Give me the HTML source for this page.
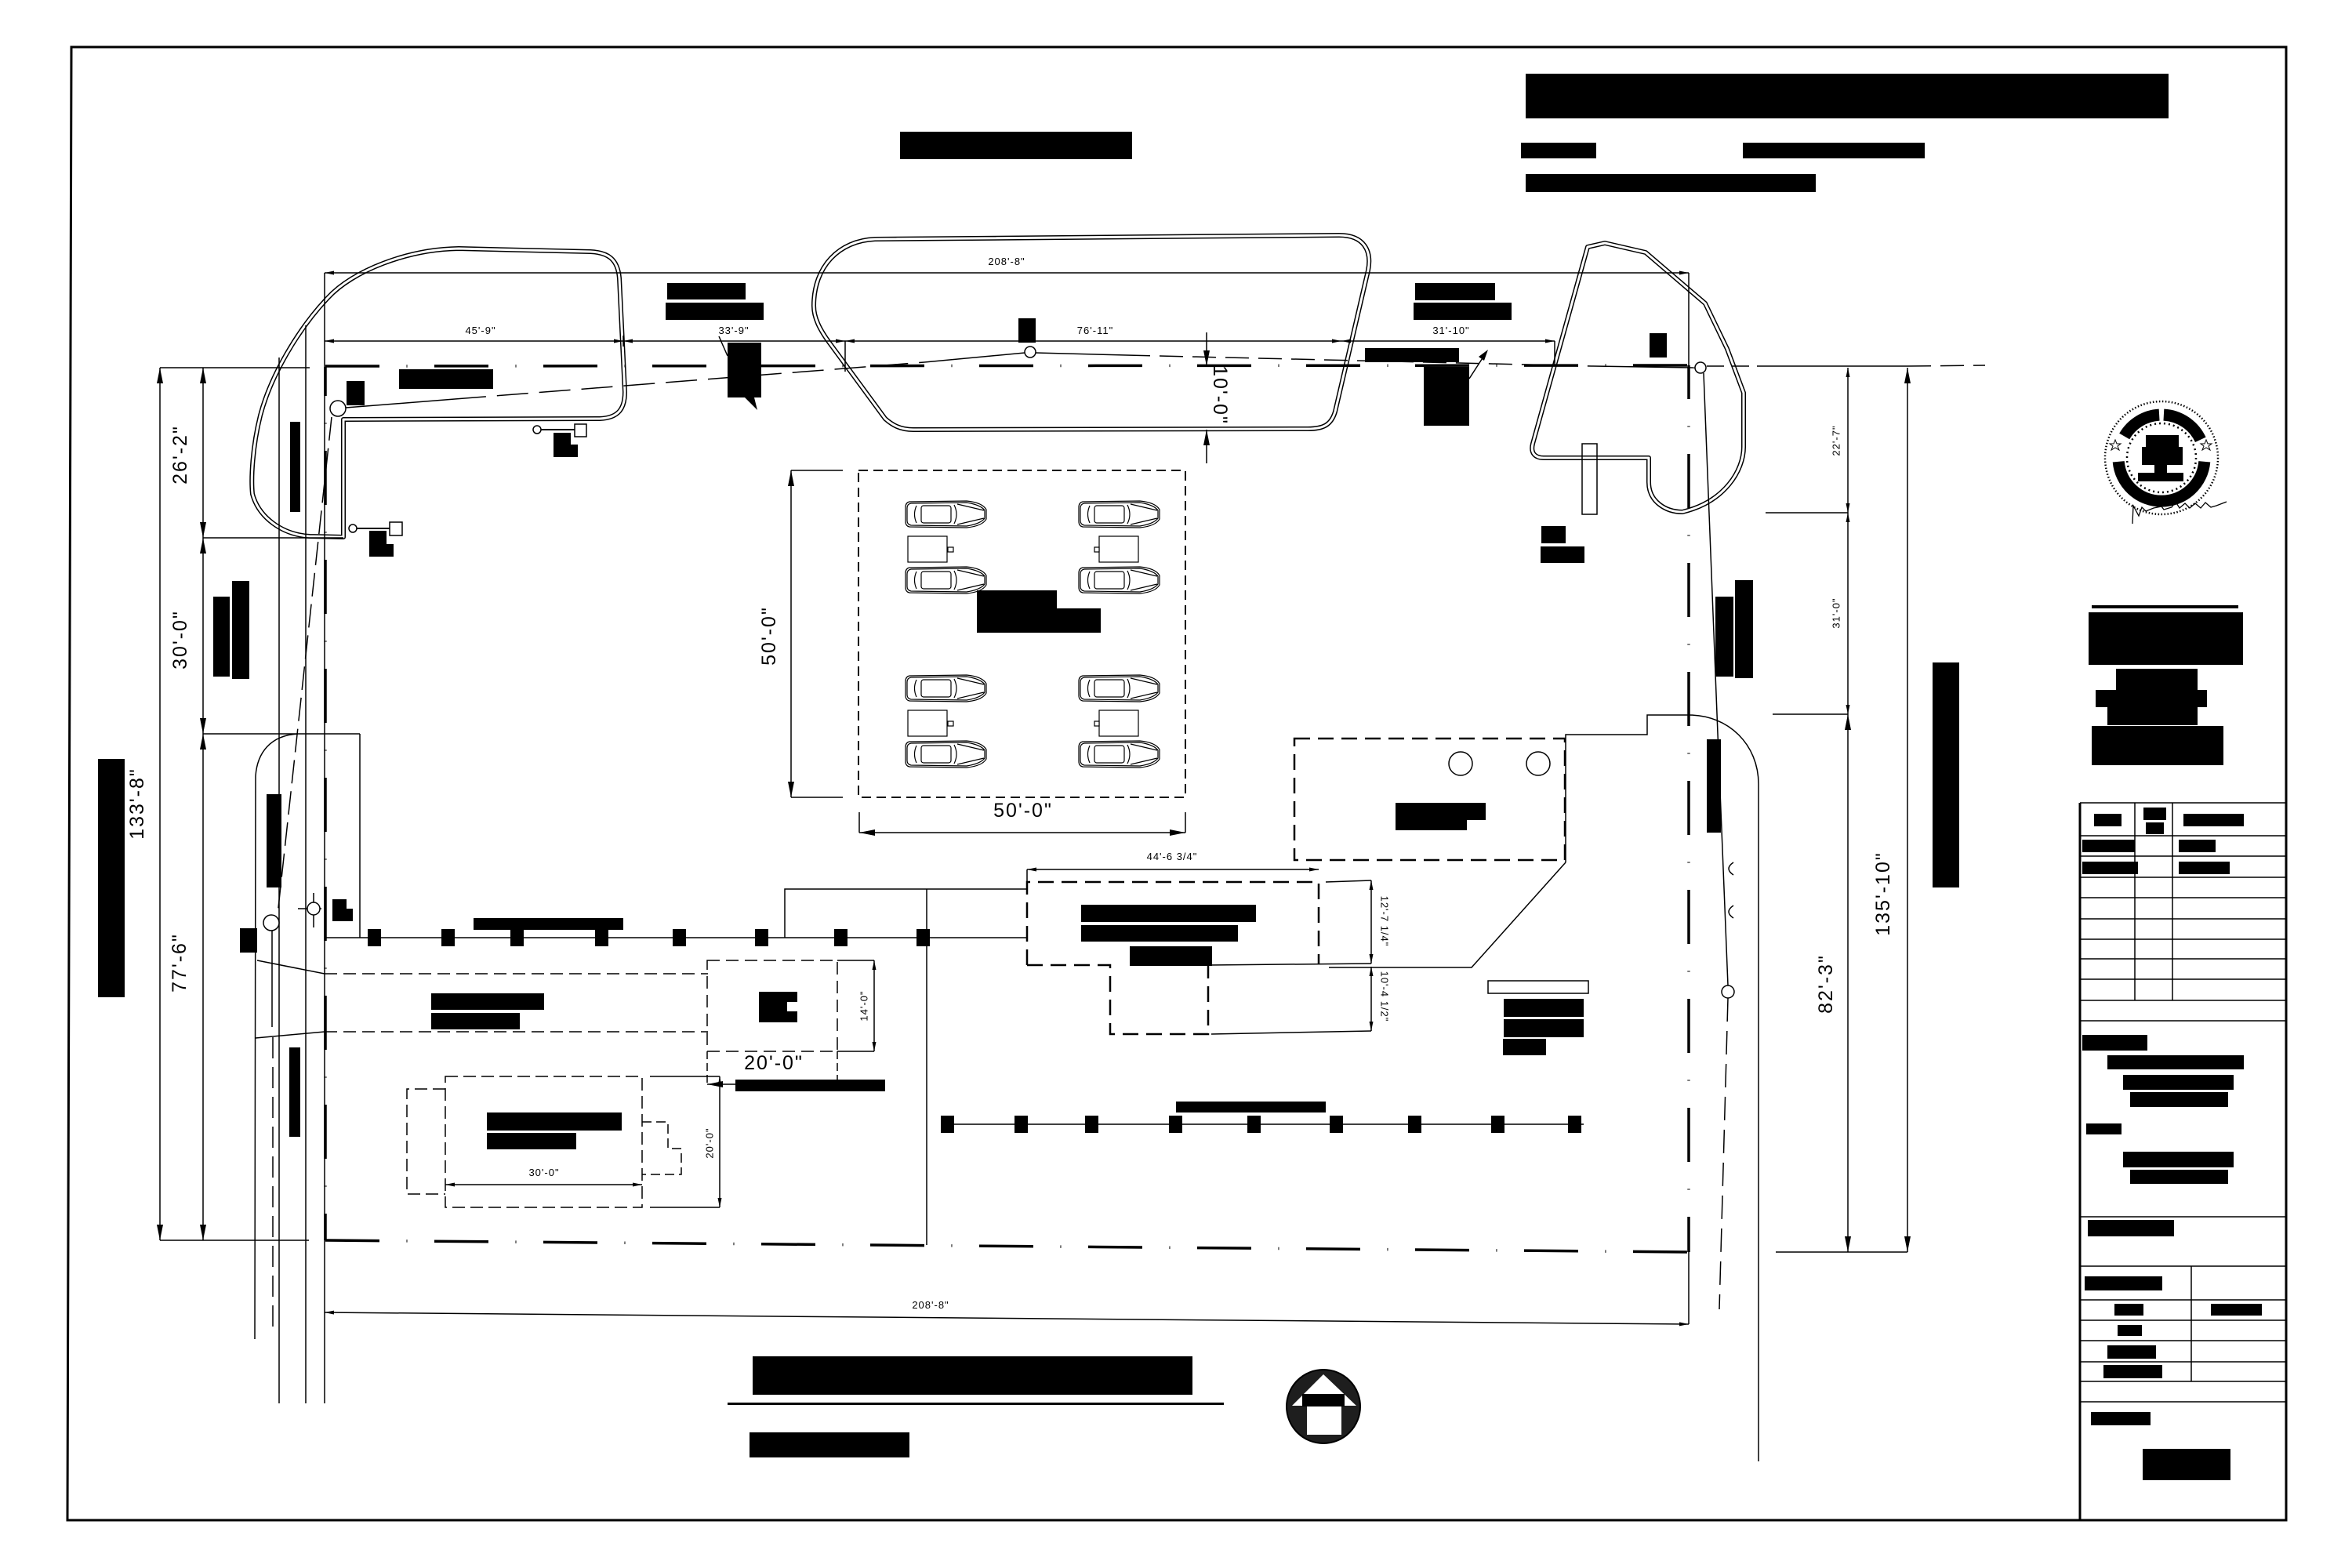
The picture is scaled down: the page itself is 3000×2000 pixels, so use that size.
<!DOCTYPE html>
<html><head><meta charset="utf-8">
<style>
html,body{margin:0;padding:0;background:#fff;}
svg{display:block;}
text{font-family:"Liberation Sans",sans-serif;fill:#000;}
.s{font-size:13px;letter-spacing:1px;}
.b{font-size:25px;letter-spacing:2px;}
</style></head><body>
<svg width="3000" height="2000" viewBox="0 0 3000 2000" xmlns="http://www.w3.org/2000/svg">
<defs>
<marker id="a" markerUnits="userSpaceOnUse" markerWidth="20" markerHeight="8" refX="20" refY="4" orient="auto-start-reverse" viewBox="0 0 20 8"><path d="M0,0 L20,4 L0,8 Z" fill="#000"/></marker>
<marker id="m" markerUnits="userSpaceOnUse" markerWidth="12" markerHeight="5" refX="12" refY="2.5" orient="auto-start-reverse" viewBox="0 0 12 5"><path d="M0,0 L12,2.5 L0,5 Z" fill="#000"/></marker>
<g id="car" fill="none" stroke="#000" stroke-width="1.2">
<path d="M5,2 L78,1 Q98,3 103,12 L103,24 Q98,33 78,35 L5,34 Q0,33 0,27 L0,9 Q0,3 5,2 Z"/>
<path d="M7,4 L78,3 Q96,6 101,13 L101,23 Q96,30 78,33 L7,32 Q2,31 2,26 L2,10 Q2,5 7,4 Z"/>
<path d="M14,7 Q9,18 14,29"/>
<rect x="20" y="7" width="38" height="22" rx="3"/>
<path d="M62,6 Q68,18 62,30"/>
<path d="M66,5 L100,13 M66,31 L100,23"/>
</g>
</defs>

<!-- frame -->
<path d="M91,60 L2916,60 L2916,1939 L86,1939 Z" fill="none" stroke="#000" stroke-width="3"/>

<!-- header blocks -->
<g fill="#000">
<rect x="1946" y="94" width="820" height="57"/>
<rect x="1940" y="182" width="96" height="20"/>
<rect x="2223" y="182" width="232" height="20"/>
<rect x="1946" y="222" width="370" height="23"/>
<rect x="1148" y="168" width="296" height="35"/>
</g>

<!-- seal -->
<g>
<circle cx="2757" cy="584" r="72" fill="none" stroke="#000" stroke-width="2.5" stroke-dasharray="1.5 2.5"/>
<circle cx="2757" cy="584" r="44" fill="none" stroke="#000" stroke-width="2.5" stroke-dasharray="2 4"/>
<path d="M2709.7,556.5 A55,55 0 0 1 2754.1,529.1" fill="none" stroke="#000" stroke-width="15"/>
<path d="M2759.9,529.1 A55,55 0 0 1 2806.8,560.8" fill="none" stroke="#000" stroke-width="15"/>
<path d="M2811.8,588.8 A55,55 0 0 1 2702.2,588.8" fill="none" stroke="#000" stroke-width="15"/>
<rect x="2737" y="555" width="42" height="15" fill="#000"/>
<rect x="2732" y="570" width="52" height="23" fill="#000"/>
<rect x="2748" y="593" width="16" height="10" fill="#000"/>
<rect x="2727" y="603" width="58" height="11" fill="#000"/>
<polygon points="2698,561 2700,566 2705,566 2701,569 2703,574 2698,571 2693,574 2695,569 2691,566 2696,566" fill="none" stroke="#000" stroke-width="1"/>
<polygon points="2814,561 2816,566 2821,566 2817,569 2819,574 2814,571 2809,574 2811,569 2807,566 2812,566" fill="none" stroke="#000" stroke-width="1"/>
<polyline points="2720,668 2721,645 2728,658 2732,647 2737,652 2747,648 2757,646 2760,650 2770,647 2775,640 2780,648 2787,642 2793,648 2800,642 2807,648 2813,641 2820,647 2827,645 2840,640" fill="none" stroke="#000" stroke-width="1.3"/>
</g>

<!-- blocks right of seal -->
<g fill="#000">
<rect x="2668" y="772" width="187" height="4"/>
<rect x="2664" y="781" width="197" height="67"/>
<rect x="2699" y="853" width="104" height="27"/>
<rect x="2673" y="880" width="142" height="22"/>
<rect x="2688" y="902" width="115" height="23"/>
<rect x="2668" y="926" width="168" height="50"/>
<rect x="2465" y="845" width="34" height="287"/>
</g>

<!-- title block -->
<g stroke="#000" fill="none">
<line x1="2653" y1="1024" x2="2653" y2="1939" stroke-width="3"/>
<g stroke-width="1.5">
<line x1="2653" y1="1024" x2="2916" y2="1024"/>
<line x1="2653" y1="1066" x2="2916" y2="1066"/>
<line x1="2653" y1="1092" x2="2916" y2="1092"/>
<line x1="2653" y1="1119" x2="2916" y2="1119"/>
<line x1="2653" y1="1145" x2="2916" y2="1145"/>
<line x1="2653" y1="1172" x2="2916" y2="1172"/>
<line x1="2653" y1="1198" x2="2916" y2="1198"/>
<line x1="2653" y1="1223" x2="2916" y2="1223"/>
<line x1="2653" y1="1249" x2="2916" y2="1249"/>
<line x1="2653" y1="1276" x2="2916" y2="1276"/>
<line x1="2653" y1="1302" x2="2916" y2="1302"/>
<line x1="2653" y1="1552" x2="2916" y2="1552"/>
<line x1="2653" y1="1615" x2="2916" y2="1615"/>
<line x1="2653" y1="1658" x2="2916" y2="1658"/>
<line x1="2653" y1="1684" x2="2916" y2="1684"/>
<line x1="2653" y1="1710" x2="2916" y2="1710"/>
<line x1="2653" y1="1737" x2="2916" y2="1737"/>
<line x1="2653" y1="1762" x2="2916" y2="1762"/>
<line x1="2653" y1="1788" x2="2916" y2="1788"/>
<line x1="2723" y1="1024" x2="2723" y2="1276"/>
<line x1="2771" y1="1024" x2="2771" y2="1276"/>
<line x1="2795" y1="1615" x2="2795" y2="1762"/>
</g>
</g>
<g fill="#000">
<rect x="2671" y="1038" width="35" height="16"/>
<rect x="2734" y="1030" width="29" height="16"/>
<rect x="2737" y="1049" width="23" height="15"/>
<rect x="2785" y="1038" width="77" height="16"/>
<rect x="2656" y="1071" width="67" height="16"/>
<rect x="2779" y="1071" width="47" height="16"/>
<rect x="2656" y="1099" width="71" height="16"/>
<rect x="2779" y="1099" width="65" height="16"/>
<rect x="2656" y="1320" width="83" height="20"/>
<rect x="2688" y="1346" width="174" height="18"/>
<rect x="2708" y="1371" width="141" height="19"/>
<rect x="2717" y="1393" width="125" height="19"/>
<rect x="2661" y="1433" width="45" height="14"/>
<rect x="2708" y="1469" width="141" height="20"/>
<rect x="2717" y="1492" width="125" height="18"/>
<rect x="2663" y="1556" width="110" height="21"/>
<rect x="2659" y="1628" width="99" height="18"/>
<rect x="2697" y="1663" width="37" height="15"/>
<rect x="2820" y="1663" width="65" height="15"/>
<rect x="2701" y="1690" width="31" height="14"/>
<rect x="2688" y="1716" width="62" height="17"/>
<rect x="2683" y="1741" width="75" height="17"/>
<rect x="2667" y="1801" width="76" height="17"/>
<rect x="2733" y="1848" width="112" height="40"/>
</g>

<!-- double-line curb shapes -->
<g fill="none" stroke-linejoin="round">
<path d="M585,317 C520,318 450,345 418,380 C380,420 345,480 332,530 C322,570 320,610 322,630 C330,660 360,682 395,684 L438,685 L438,535 L765,534 C790,533 797,520 797,500 L790,355 C788,330 775,322 753,321 Z" stroke="#000" stroke-width="6"/>
<path d="M585,317 C520,318 450,345 418,380 C380,420 345,480 332,530 C322,570 320,610 322,630 C330,660 360,682 395,684 L438,685 L438,535 L765,534 C790,533 797,520 797,500 L790,355 C788,330 775,322 753,321 Z" stroke="#fff" stroke-width="3"/>
<path d="M1116,305 L1708,300 C1740,300 1750,320 1745,345 L1703,525 C1698,542 1688,547 1668,547 L1165,548 C1148,548 1138,542 1129,534 L1060,440 C1045,420 1038,405 1038,390 C1038,340 1070,307 1116,305 Z" stroke="#000" stroke-width="6"/>
<path d="M1116,305 L1708,300 C1740,300 1750,320 1745,345 L1703,525 C1698,542 1688,547 1668,547 L1165,548 C1148,548 1138,542 1129,534 L1060,440 C1045,420 1038,405 1038,390 C1038,340 1070,307 1116,305 Z" stroke="#fff" stroke-width="3"/>
<path d="M2025,315 L2047,310 L2099,322 L2175,387 L2203,445 L2224,501 L2224,570 C2224,600 2200,640 2146,653 C2125,653 2103,640 2103,615 L2103,584 L1969,584 C1958,584 1952,578 1955,566 Z" stroke="#000" stroke-width="6"/>
<path d="M2025,315 L2047,310 L2099,322 L2175,387 L2203,445 L2224,501 L2224,570 C2224,600 2200,640 2146,653 C2125,653 2103,640 2103,615 L2103,584 L1969,584 C1958,584 1952,578 1955,566 Z" stroke="#fff" stroke-width="3"/>
</g>

<!-- property line -->
<g stroke="#000" stroke-width="3.5" fill="none" stroke-dasharray="69 34.5 1 34.5">
<path d="M415,467 L2155,466"/>
<path d="M415,1582 L2155,1597"/>
<path d="M415,468 L415,1582" stroke-dashoffset="32"/>
<path d="M2154,466 L2154,1597" stroke-dashoffset="26"/>
</g>

<!-- thin lines -->
<g stroke="#000" stroke-width="1.5" fill="none">
<line x1="414" y1="348" x2="414" y2="1790"/>
<line x1="356" y1="456" x2="356" y2="1790"/>
<line x1="390" y1="415" x2="390" y2="1790"/>
<path d="M325,1708 L326,990 C328,960 345,938 380,936 L459,936"/>
<line x1="459" y1="936" x2="459" y2="1196"/>
<line x1="2154" y1="348" x2="2154" y2="470"/>
<line x1="2154" y1="1597" x2="2154" y2="1689"/>
<line x1="204" y1="469" x2="395" y2="469"/>
<line x1="259" y1="686" x2="438" y2="686"/>
<line x1="259" y1="936" x2="380" y2="936"/>
<line x1="204" y1="1582" x2="394" y2="1582"/>
<line x1="1078" y1="435" x2="1078" y2="474"/>
<line x1="795" y1="428" x2="795" y2="442"/>
<line x1="1983" y1="435" x2="1983" y2="466"/>
<line x1="2252" y1="654" x2="2357" y2="654"/>
<line x1="2261" y1="911" x2="2357" y2="911"/>
<line x1="2265" y1="1597" x2="2433" y2="1597"/>
<line x1="2253" y1="467" x2="2433" y2="467"/>
<line x1="2177" y1="467" x2="2253" y2="467" stroke-dasharray="22 10"/>
<line x1="2433" y1="467" x2="2532" y2="466" stroke-dasharray="30 12"/>
<line x1="441" y1="520" x2="580" y2="509"/>
<line x1="580" y1="509" x2="1179" y2="462" stroke-dasharray="40 14"/>
<line x1="1179" y1="462" x2="1307" y2="450"/>
<line x1="1321" y1="450" x2="1437" y2="453"/>
<line x1="1437" y1="453" x2="2030" y2="467" stroke-dasharray="30 12"/>
<line x1="2030" y1="467" x2="2162" y2="469"/>
<path d="M2173,476 L2191,936 L2197,1083 L2204,1257"/>
<line x1="2204" y1="1273" x2="2193" y2="1670" stroke-dasharray="30 12"/>
<path d="M2211,1100 Q2199,1108 2211,1116 M2211,1155 Q2199,1163 2211,1171"/>
<line x1="423" y1="532" x2="354" y2="1167" stroke-dasharray="30 10"/>
<line x1="347" y1="1187" x2="347" y2="1310"/>
<line x1="348" y1="1323" x2="348" y2="1698" stroke-dasharray="27 11"/>
<line x1="380" y1="1159" x2="410" y2="1159"/>
<line x1="400" y1="1139" x2="400" y2="1183"/>
<line x1="690" y1="548" x2="733" y2="548" stroke-width="2"/>
<line x1="455" y1="674" x2="497" y2="674" stroke-width="2"/>
<line x1="328" y1="1225" x2="414" y2="1242"/>
<line x1="326" y1="1324" x2="414" y2="1316"/>
<line x1="414" y1="1242" x2="903" y2="1242" stroke-dasharray="16 8"/>
<line x1="414" y1="1316" x2="903" y2="1316" stroke-dasharray="16 8"/>
<rect x="902" y="1225" width="166" height="116" stroke-dasharray="16 8"/>
<line x1="1068" y1="1225" x2="1115" y2="1225"/>
<line x1="1068" y1="1341" x2="1115" y2="1341"/>
<line x1="902" y1="1341" x2="902" y2="1383" stroke-dasharray="10 5"/>
<line x1="1068" y1="1341" x2="1068" y2="1377" stroke-dasharray="10 5"/>
<rect x="568" y="1373" width="251" height="167" stroke-dasharray="16 7"/>
<path d="M568,1389 L519,1389 L519,1523 L568,1523" stroke-dasharray="16 7"/>
<path d="M819,1431 L852,1431 L852,1465 L869,1465 L869,1498 L819,1498" stroke-dasharray="12 6"/>
<line x1="829" y1="1373" x2="918" y2="1373"/>
<line x1="829" y1="1540" x2="918" y2="1540"/>
<line x1="414" y1="1196" x2="1310" y2="1196"/>
<path d="M1001,1196 L1001,1134 L1310,1134"/>
<line x1="1182" y1="1134" x2="1182" y2="1588"/>
<line x1="1200" y1="1434" x2="2020" y2="1434"/>
<path d="M1310,1231 L1310,1125 L1682,1125 L1682,1230" stroke-width="2.5" stroke-dasharray="20 10"/>
<path d="M1310,1231 L1416,1231 L1416,1319 L1541,1319 L1541,1231" stroke-width="2.5" stroke-dasharray="20 10"/>
<line x1="1541" y1="1231" x2="1749" y2="1229"/>
<line x1="1545" y1="1319" x2="1749" y2="1315"/>
<line x1="1691" y1="1125" x2="1749" y2="1123"/>
<line x1="1310" y1="1109" x2="1310" y2="1125"/>
<rect x="1651" y="942" width="345" height="155" stroke-width="2.5" stroke-dasharray="20 10"/>
<circle cx="1863" cy="974" r="15"/>
<circle cx="1962" cy="974" r="15"/>
<path d="M1997,1100 L1997,937 L2101,937 L2101,912 L2154,912"/>
<path d="M1997,1100 L1877,1234 L1695,1234"/>
<path d="M2154,912 C2205,912 2243,950 2243,1000 L2243,1864"/>
<rect x="1095" y="600" width="417" height="417" stroke-width="2" stroke-dasharray="12 7"/>
<line x1="1009" y1="600" x2="1075" y2="600"/>
<line x1="1009" y1="1017" x2="1075" y2="1017"/>
<line x1="1096" y1="1036" x2="1096" y2="1062"/>
<line x1="1512" y1="1036" x2="1512" y2="1062"/>
<rect x="2018" y="566" width="19" height="90"/>
<rect x="1898" y="1251" width="128" height="16"/>
<line x1="1874" y1="483" x2="1896" y2="449"/>
<line x1="917" y1="429" x2="928" y2="454"/>
</g>

<!-- dimension lines with arrows -->
<g stroke="#000" stroke-width="1.5" fill="none">
<line x1="414" y1="348" x2="2154" y2="348" marker-start="url(#m)" marker-end="url(#m)"/>
<line x1="414" y1="435" x2="795" y2="435" marker-start="url(#m)" marker-end="url(#m)"/>
<line x1="795" y1="435" x2="1078" y2="435" marker-start="url(#m)" marker-end="url(#m)"/>
<line x1="1078" y1="435" x2="1711" y2="435" marker-start="url(#m)" marker-end="url(#m)"/>
<line x1="1711" y1="435" x2="1983" y2="435" marker-start="url(#m)" marker-end="url(#m)"/>
<line x1="1539" y1="424" x2="1539" y2="467" marker-end="url(#a)"/>
<line x1="1539" y1="591" x2="1539" y2="548" marker-end="url(#a)"/>
<line x1="204" y1="469" x2="204" y2="1582" marker-start="url(#a)" marker-end="url(#a)"/>
<line x1="259" y1="469" x2="259" y2="686" marker-start="url(#a)" marker-end="url(#a)"/>
<line x1="259" y1="686" x2="259" y2="936" marker-start="url(#a)" marker-end="url(#a)"/>
<line x1="259" y1="936" x2="259" y2="1582" marker-start="url(#a)" marker-end="url(#a)"/>
<line x1="2357" y1="469" x2="2357" y2="654" marker-start="url(#m)" marker-end="url(#m)"/>
<line x1="2357" y1="654" x2="2357" y2="911" marker-start="url(#m)" marker-end="url(#m)"/>
<line x1="2357" y1="911" x2="2357" y2="1597" marker-start="url(#a)" marker-end="url(#a)"/>
<line x1="2433" y1="469" x2="2433" y2="1597" marker-start="url(#a)" marker-end="url(#a)"/>
<line x1="414" y1="1674" x2="2154" y2="1689" marker-start="url(#m)" marker-end="url(#m)"/>
<line x1="1009" y1="600" x2="1009" y2="1017" marker-start="url(#a)" marker-end="url(#a)"/>
<line x1="1096" y1="1062" x2="1512" y2="1062" marker-start="url(#a)" marker-end="url(#a)"/>
<line x1="1310" y1="1109" x2="1682" y2="1109" marker-start="url(#m)" marker-end="url(#m)"/>
<line x1="1749" y1="1123" x2="1749" y2="1229" marker-start="url(#m)" marker-end="url(#m)"/>
<line x1="1749" y1="1233" x2="1749" y2="1315" marker-start="url(#m)" marker-end="url(#m)"/>
<line x1="1115" y1="1225" x2="1115" y2="1341" marker-start="url(#m)" marker-end="url(#m)"/>
<line x1="902" y1="1383" x2="1068" y2="1383" marker-start="url(#a)" marker-end="url(#a)"/>
<line x1="918" y1="1373" x2="918" y2="1540" marker-start="url(#m)" marker-end="url(#m)"/>
<line x1="568" y1="1511" x2="819" y2="1511" marker-start="url(#m)" marker-end="url(#m)"/>
</g>
<path d="M1898,446 L1893,460 L1886,455 Z" fill="#000"/>

<!-- poles -->
<g fill="#fff" stroke="#000" stroke-width="1.5">
<circle cx="431" cy="521" r="10"/>
<circle cx="1314" cy="449" r="7"/>
<circle cx="2169" cy="469" r="7"/>
<circle cx="2204" cy="1265" r="8"/>
<circle cx="346" cy="1177" r="10"/>
<circle cx="400" cy="1159" r="8"/>
<circle cx="685" cy="548" r="5"/>
<rect x="733" y="541" width="15" height="16"/>
<circle cx="450" cy="674" r="5"/>
<rect x="497" y="666" width="16" height="17"/>
</g>

<!-- cars -->
<use href="#car" x="1155" y="638"/>
<use href="#car" x="1376" y="638"/>
<use href="#car" x="1155" y="722"/>
<use href="#car" x="1376" y="722"/>
<use href="#car" x="1155" y="860"/>
<use href="#car" x="1376" y="860"/>
<use href="#car" x="1155" y="944"/>
<use href="#car" x="1376" y="944"/>
<g fill="#fff" stroke="#000" stroke-width="1.2">
<rect x="1158" y="684" width="50" height="33"/><rect x="1209" y="698" width="7" height="6"/>
<rect x="1402" y="684" width="50" height="33"/><rect x="1396" y="698" width="6" height="6"/>
<rect x="1158" y="906" width="50" height="33"/><rect x="1209" y="920" width="7" height="6"/>
<rect x="1402" y="906" width="50" height="33"/><rect x="1396" y="920" width="6" height="6"/>
</g>

<!-- black redaction boxes -->
<g fill="#000">
<rect x="851" y="361" width="100" height="21"/>
<rect x="849" y="386" width="125" height="22"/>
<rect x="509" y="471" width="120" height="25"/>
<rect x="442" y="486" width="23" height="31"/>
<rect x="928" y="437" width="43" height="70"/>
<polygon points="950,507 966,523 962,507"/>
<rect x="1299" y="406" width="22" height="31"/>
<rect x="370" y="538" width="13" height="115"/>
<rect x="272" y="761" width="21" height="102"/>
<rect x="296" y="741" width="22" height="125"/>
<path d="M706,552 H728 V567 H737 V583 H706 Z"/>
<path d="M471,677 H493 V694 H502 V710 H471 Z"/>
<rect x="1805" y="361" width="102" height="22"/>
<rect x="1803" y="386" width="125" height="22"/>
<rect x="1741" y="444" width="120" height="18"/>
<rect x="1816" y="468" width="58" height="75"/>
<rect x="2104" y="425" width="22" height="31"/>
<rect x="1966" y="671" width="31" height="22"/>
<rect x="1965" y="697" width="56" height="21"/>
<rect x="2188" y="761" width="23" height="102"/>
<rect x="2213" y="740" width="23" height="125"/>
<rect x="2177" y="943" width="18" height="119"/>
<rect x="1246" y="753" width="102" height="54"/>
<rect x="1348" y="776" width="56" height="31"/>
<rect x="1780" y="1024" width="115" height="22"/>
<rect x="1780" y="1046" width="91" height="13"/>
<rect x="1379" y="1154" width="223" height="22"/>
<rect x="1379" y="1180" width="200" height="21"/>
<rect x="1441" y="1207" width="105" height="25"/>
<rect x="1918" y="1274" width="102" height="23"/>
<rect x="1918" y="1300" width="102" height="23"/>
<rect x="1917" y="1325" width="55" height="21"/>
<rect x="125" y="968" width="34" height="304"/>
<rect x="340" y="1013" width="19" height="119"/>
<path d="M424,1147 H442 V1159 H450 V1175 H424 Z"/>
<rect x="306" y="1184" width="22" height="31"/>
<rect x="369" y="1336" width="14" height="114"/>
<rect x="604" y="1171" width="191" height="15"/>
<rect x="550" y="1267" width="144" height="21"/>
<rect x="550" y="1292" width="113" height="21"/>
<path d="M968,1265 H1017 V1278 H1004 V1290 H1017 V1304 H968 Z"/>
<rect x="938" y="1377" width="191" height="15"/>
<rect x="621" y="1419" width="172" height="23"/>
<rect x="621" y="1445" width="114" height="21"/>
<rect x="1500" y="1405" width="191" height="14"/>
<rect x="960" y="1730" width="561" height="49"/>
<rect x="956" y="1827" width="204" height="32"/>
<rect x="928" y="1789" width="633" height="3"/>
<rect x="469" y="1185" width="17" height="22"/>
<rect x="563" y="1185" width="17" height="22"/>
<rect x="651" y="1185" width="17" height="22"/>
<rect x="759" y="1185" width="17" height="22"/>
<rect x="858" y="1185" width="17" height="22"/>
<rect x="963" y="1185" width="17" height="22"/>
<rect x="1064" y="1185" width="17" height="22"/>
<rect x="1169" y="1185" width="17" height="22"/>
<rect x="1200" y="1423" width="17" height="22"/>
<rect x="1294" y="1423" width="17" height="22"/>
<rect x="1384" y="1423" width="17" height="22"/>
<rect x="1491" y="1423" width="17" height="22"/>
<rect x="1591" y="1423" width="17" height="22"/>
<rect x="1696" y="1423" width="17" height="22"/>
<rect x="1796" y="1423" width="17" height="22"/>
<rect x="1902" y="1423" width="17" height="22"/>
<rect x="2000" y="1423" width="17" height="22"/>
</g>

<!-- north arrow -->
<g>
<circle cx="1688" cy="1794" r="47" fill="#1e1e1e" stroke="#000" stroke-width="2"/>
<polygon points="1688,1753 1648,1793 1730,1793" fill="#fff"/>
<rect x="1661" y="1778" width="54" height="16" fill="#000"/>
<rect x="1667" y="1794" width="44" height="36" fill="#fff"/>
</g>

<!-- small dimension texts -->
<g class="s">
<text x="1284" y="338" text-anchor="middle">208'-8"</text>
<text x="613" y="426" text-anchor="middle">45'-9"</text>
<text x="936" y="426" text-anchor="middle">33'-9"</text>
<text x="1397" y="426" text-anchor="middle">76'-11"</text>
<text x="1851" y="426" text-anchor="middle">31'-10"</text>
<text x="1495" y="1097" text-anchor="middle">44'-6 3/4"</text>
<text x="694" y="1500" text-anchor="middle">30'-0"</text>
<text x="1187" y="1669" text-anchor="middle">208'-8"</text>
<text transform="translate(2342,562) rotate(-90)" text-anchor="middle" dominant-baseline="central">22'-7"</text>
<text transform="translate(2342,782) rotate(-90)" text-anchor="middle" dominant-baseline="central">31'-0"</text>
<text transform="translate(1766,1175) rotate(90)" text-anchor="middle" dominant-baseline="central">12'-7 1/4"</text>
<text transform="translate(1766,1271) rotate(90)" text-anchor="middle" dominant-baseline="central">10'-4 1/2"</text>
<text transform="translate(1102,1283) rotate(-90)" text-anchor="middle" dominant-baseline="central">14'-0"</text>
<text transform="translate(905,1458) rotate(-90)" text-anchor="middle" dominant-baseline="central">20'-0"</text>
</g>

<!-- big dimension texts -->
<g class="b">
<text transform="translate(230,580) rotate(-90)" text-anchor="middle" dominant-baseline="central">26'-2"</text>
<text transform="translate(230,816) rotate(-90)" text-anchor="middle" dominant-baseline="central">30'-0"</text>
<text transform="translate(229,1228) rotate(-90)" text-anchor="middle" dominant-baseline="central">77'-6"</text>
<text transform="translate(175,1025) rotate(-90)" text-anchor="middle" dominant-baseline="central">133'-8"</text>
<text transform="translate(981,811) rotate(-90)" text-anchor="middle" dominant-baseline="central">50'-0"</text>
<text x="1305" y="1042" text-anchor="middle">50'-0"</text>
<text x="987" y="1364" text-anchor="middle">20'-0"</text>
<text transform="translate(1556,504) rotate(90)" text-anchor="middle" dominant-baseline="central">10'-0"</text>
<text transform="translate(2329,1255) rotate(-90)" text-anchor="middle" dominant-baseline="central">82'-3"</text>
<text transform="translate(2402,1140) rotate(-90)" text-anchor="middle" dominant-baseline="central">135'-10"</text>
</g>
</svg>
</body></html>
